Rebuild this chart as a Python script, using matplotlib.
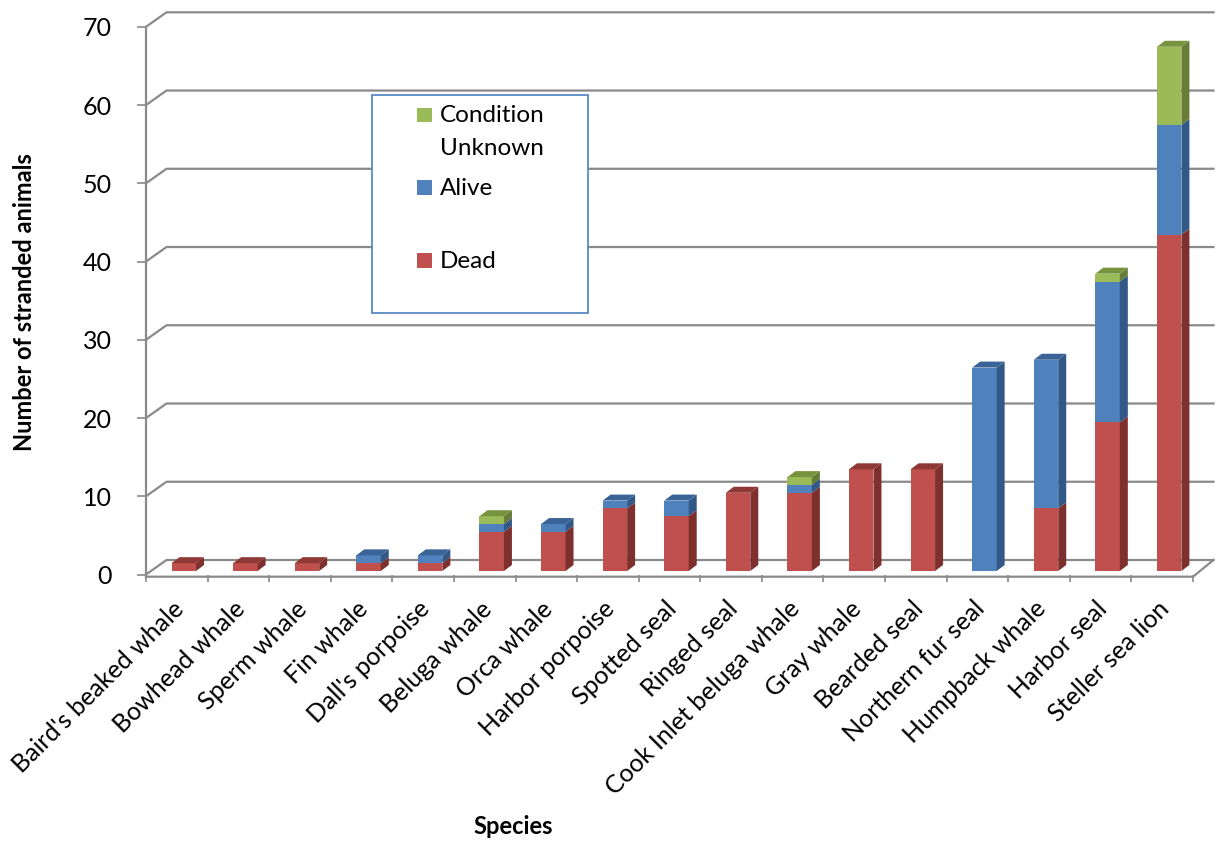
import matplotlib
matplotlib.use("Agg")
import matplotlib.pyplot as plt
from matplotlib.patches import Polygon, Rectangle

plt.rcParams["font.family"] = ["Lato", "DejaVu Sans"]

# ---- data -------------------------------------------------------------
species = ["Baird's beaked whale", "Bowhead whale", "Sperm whale", "Fin whale",
           "Dall's porpoise", "Beluga whale", "Orca whale", "Harbor porpoise",
           "Spotted seal", "Ringed seal", "Cook Inlet beluga whale", "Gray whale",
           "Bearded seal", "Northern fur seal", "Humpback whale", "Harbor seal",
           "Steller sea lion"]
dead    = [1, 1, 1, 1, 1, 5, 5, 8, 7, 10, 10, 13, 13, 0, 8, 19, 43]
alive   = [0, 0, 0, 1, 1, 1, 1, 1, 2, 0, 1, 0, 0, 26, 19, 18, 14]
unknown = [0, 0, 0, 0, 0, 1, 0, 0, 0, 0, 1, 0, 0, 0, 0, 1, 10]
y_ticks = [0, 10, 20, 30, 40, 50, 60, 70]

series = [("Dead", dead), ("Alive", alive), ("Condition\nUnknown", unknown)]
face = {"Dead": "#C0504D", "Alive": "#4F81BD", "Condition\nUnknown": "#9BBB59"}
side = {"Dead": "#7E302E", "Alive": "#325887", "Condition\nUnknown": "#667C37"}
top = {"Dead": "#8F3936", "Alive": "#3A6497", "Condition\nUnknown": "#77933D"}

GRID = "#8A8A8A"

# ---- figure / axes ------------------------------------------------------
W, H = 1217, 842
fig = plt.figure(figsize=(W / 100, H / 100), dpi=100)

X0, X1 = 146.0, 1193.0     # front floor edge, pixels
Y0, YT = 574.5, 26.8       # value 0 and value 70 on the front axis, pixels
ax = fig.add_axes([X0 / W, 1 - Y0 / H, (X1 - X0) / W, (Y0 - YT) / H])
n = len(species)
ax.set_xlim(0, n)
ax.set_ylim(0, 70)
for s in ax.spines.values():
    s.set_visible(False)
ax.patch.set_visible(False)

px_x = (X1 - X0) / n
px_y = (Y0 - YT) / 70.0


def ux(p):
    return p / px_x


def uy(p):
    return p / px_y


# wall depth and bar geometry (in data units)
WDX, WDY = ux(20.5), uy(14.5)
BAR_OFF, BAR_W = ux(25.5), ux(24.5)
BASE = uy(3.5)
BDX, BDY = ux(8), uy(6)

# ---- back wall, side wall and floor --------------------------------------
for v in y_ticks:
    ax.plot([0, WDX, n + WDX], [v, v + WDY, v + WDY], color=GRID, lw=1.6,
            clip_on=False, zorder=1, solid_joinstyle="miter")
fl = -uy(2.2)
ax.plot([0, n, n + WDX], [fl, fl, WDY], color=GRID, lw=1.6, clip_on=False, zorder=1)
ax.plot([0, 0], [fl, 70], color=GRID, lw=1.6, clip_on=False, zorder=1)

# ---- stacked 3-D columns --------------------------------------------------
cum = [0.0] * n
tops = [None] * n
for name, vals in series:
    xs = [i + BAR_OFF for i in range(n)]
    bottoms = [BASE + c for c in cum]
    ax.bar(xs, vals, width=BAR_W, bottom=bottoms, align="edge",
           color=face[name], edgecolor="none", zorder=3)
    for i, v in enumerate(vals):
        if v <= 0:
            continue
        x0 = xs[i]
        x1 = x0 + BAR_W
        y0 = bottoms[i]
        y1 = y0 + v
        ax.add_patch(Polygon([(x1, y0), (x1 + BDX, y0 + BDY), (x1 + BDX, y1 + BDY), (x1, y1)],
                             closed=True, facecolor=side[name], edgecolor="none",
                             zorder=3, clip_on=False))
        tops[i] = (name, x0, x1, y1)
    cum = [c + v for c, v in zip(cum, vals)]

for t in tops:
    if t is None:
        continue
    name, x0, x1, y1 = t
    ax.add_patch(Polygon([(x0, y1), (x1, y1), (x1 + BDX, y1 + BDY), (x0 + BDX, y1 + BDY)],
                         closed=True, facecolor=top[name], edgecolor="none",
                         zorder=3, clip_on=False))

# ---- axes ticks and labels --------------------------------------------------
ax.set_yticks(y_ticks)
ax.set_yticklabels([str(v) for v in y_ticks], fontsize=18)
ax.tick_params(axis="y", length=6.5, width=1.2, color=GRID, pad=18)

ax.set_xticks(range(n + 1), minor=True)
ax.tick_params(axis="x", which="minor", length=5.2, width=1.2, color=GRID, direction="out")
ax.set_xticks([i + 0.55 for i in range(n)])
ax.set_xticklabels(species, rotation=45, ha="right", va="center",
                   rotation_mode="anchor", fontsize=18)
ax.tick_params(axis="x", which="major", length=0, pad=22)

fig.text(25 / W, 1 - 302 / H, "Number of stranded animals", rotation=90,
         ha="center", va="center", fontsize=17, fontweight="bold")
fig.text(513 / W, 1 - 826 / H, "Species", ha="center", va="center",
         fontsize=17, fontweight="bold")

# ---- legend box ---------------------------------------------------------------
def fx(p):
    return p / W


def fy(p):
    return 1 - p / H


fig.patches.append(Rectangle((fx(372), fy(312.5)), fx(588) - fx(372), fy(94.5) - fy(312.5),
                             transform=fig.transFigure, facecolor="white",
                             edgecolor="#5A8AC6", lw=1.3, zorder=10))
legend_rows = [("Condition\nUnknown", 107.5, [("Condition", 121.7), ("Unknown", 155.0)]),
               ("Alive", 180.3, [("Alive", 195.0)]),
               ("Dead", 253.2, [("Dead", 267.7)])]
for name, sq_top, lines in legend_rows:
    fig.patches.append(Rectangle((fx(417.3), fy(sq_top + 14.5)), fx(14.7), 14.5 / H,
                                 transform=fig.transFigure, facecolor=face[name],
                                 edgecolor="none", zorder=11))
    for txt, base in lines:
        fig.text(fx(439.5), fy(base), txt, ha="left", va="baseline",
                 fontsize=17.5, zorder=12)

fig.savefig("out.png", dpi=100, facecolor="white")
